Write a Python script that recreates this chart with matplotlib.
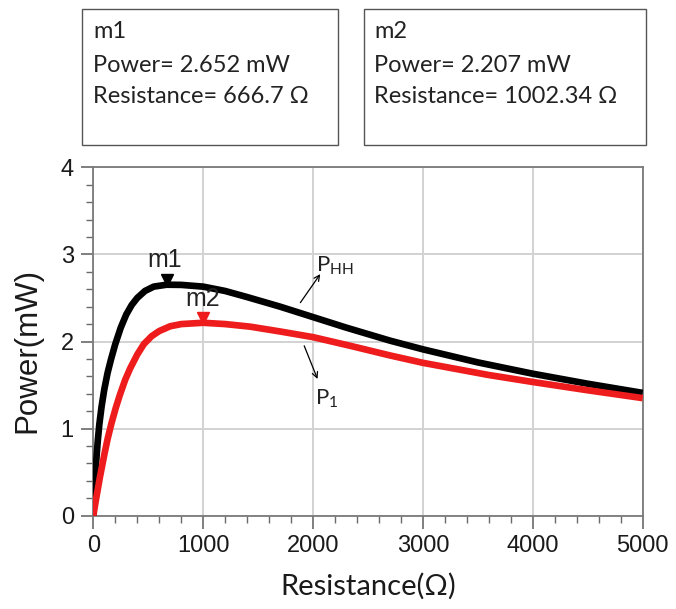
import matplotlib
matplotlib.use('Agg')
import matplotlib.pyplot as plt
from matplotlib import transforms
from matplotlib.patches import Rectangle

# ---- data ----
res_phh = [0, 10, 25, 40, 55, 75, 100, 130, 160, 200, 250, 300, 350, 400, 470, 550,
           667, 800, 1000, 1200, 1400, 1700, 2000, 2300, 2700, 3000, 3500, 4000, 4500, 5000]
pow_phh = [0, 0.25, 0.6, 0.85, 1.05, 1.25, 1.45, 1.64, 1.79, 1.97, 2.16, 2.31, 2.42, 2.50, 2.58, 2.63,
           2.652, 2.65, 2.63, 2.58, 2.51, 2.40, 2.28, 2.16, 2.01, 1.91, 1.76, 1.63, 1.515, 1.41]

res_p1 = [0, 25, 60, 100, 130, 165, 205, 240, 290, 335, 400, 460, 530, 600, 700, 800,
          1000, 1200, 1430, 1700, 2000, 2340, 2700, 3000, 3600, 4000, 4500, 5000]
pow_p1 = [0, 0.19, 0.44, 0.70, 0.88, 1.06, 1.24, 1.38, 1.56, 1.69, 1.85, 1.97, 2.06, 2.12, 2.175, 2.20,
          2.215, 2.20, 2.17, 2.115, 2.05, 1.95, 1.84, 1.755, 1.615, 1.535, 1.44, 1.35]

m1_res, m1_pow = 666.7, 2.652
m2_res, m2_pow = 1002.34, 2.207

x_ticks = [0, 1000, 2000, 3000, 4000, 5000]
y_ticks = [0, 1, 2, 3, 4]

W, H = 676, 609
fig = plt.figure(figsize=(W / 100, H / 100), dpi=100)

def fx(px):
    return px / W

def fy(py):
    return 1 - py / H

ax = fig.add_axes([fx(93.3), fy(515.7), (642.7 - 93.3) / W, (515.7 - 167.3) / H])
ax.set_xlim(0, 5000)
ax.set_ylim(0, 4)
ax.set_xticks(x_ticks)
ax.set_yticks(y_ticks)
ax.set_xticks([v for v in range(0, 5001, 200)], minor=True)
ax.set_yticks([v / 5 for v in range(0, 21)], minor=True)
ax.grid(True, which='major', color='#d2d2d2', lw=1.4)
ax.set_axisbelow(True)
for s in ax.spines.values():
    s.set_color('#7a7a7a')
    s.set_linewidth(1.3)
ax.tick_params(which='major', direction='out', length=9, width=1.2, color='#6a6a6a',
               labelsize=17, labelcolor='#1a1a1a', pad=5)
ax.tick_params(which='minor', direction='out', length=5, width=1.0, color='#6a6a6a')
for lab in ax.get_xticklabels() + ax.get_yticklabels():
    lab.set_fontfamily('Liberation Sans')

ax.plot(res_phh, pow_phh, color='black', lw=4.8, solid_capstyle='butt',
        solid_joinstyle='round', zorder=3)
ax.plot(res_p1, pow_p1, color='#ee1c1c', lw=4.8, solid_capstyle='butt',
        solid_joinstyle='round', zorder=4)

# markers (tip sits on the curve)
up = transforms.offset_copy(ax.transData, fig=fig, x=0, y=5, units='dots')
ax.plot([m1_res], [m1_pow], marker='v', color='black', ms=9, transform=up, zorder=5, clip_on=False)
ax.plot([m2_res], [m2_pow], marker='v', color='#ee1c1c', ms=9, transform=up, zorder=5, clip_on=False)
ax.annotate('m1', (m1_res, m1_pow), xytext=(-2, 25), textcoords='offset pixels',
            ha='center', va='center', fontsize=18, family='Liberation Sans', color='#222222')
ax.annotate('m2', (m2_res, m2_pow), xytext=(-1, 24), textcoords='offset pixels',
            ha='center', va='center', fontsize=18, family='Liberation Sans', color='#222222')

# curve labels with arrows
ax.annotate('', xy=(2080, 2.80), xytext=(1870, 2.42),
            arrowprops=dict(arrowstyle='->', color='black', lw=0.9))
ax.text(2030, 2.74, r'P$_{\mathregular{HH}}$', fontsize=16, family='Lato', color='#222222',
        ha='left', va='bottom')
ax.annotate('', xy=(2050, 1.54), xytext=(1910, 1.98),
            arrowprops=dict(arrowstyle='->', color='black', lw=0.9))
ax.text(2020, 1.21, r'P$_{\mathregular{1}}$', fontsize=16, family='Lato', color='#222222',
        ha='left', va='bottom')

ax.set_ylabel('Power(mW)', fontsize=22.5, family='Liberation Sans', color='#1a1a1a')
ax.yaxis.set_label_coords(-0.093, 0.475)
ax.set_xlabel('Resistance(Ω)', fontsize=21, family='Lato', color='#1a1a1a')
ax.xaxis.set_label_coords(0.5, -0.163)

# marker readout boxes
boxes = [(82, 338, 'm1', 'Power= 2.652 mW', 'Resistance= 666.7 Ω'),
         (363.5, 645.5, 'm2', 'Power= 2.207 mW', 'Resistance= 1002.34 Ω')]
for left, right, name, l1, l2 in boxes:
    fig.add_artist(Rectangle((fx(left), fy(145)), (right - left) / W, (145 - 9.3) / H,
                             transform=fig.transFigure, fill=False, ec='#555555', lw=1.0))
    tx = fx(left + 11)
    for txt, base in ((name, 38.3), (l1, 71.7), (l2, 103.3)):
        fig.text(tx, fy(base), txt, fontsize=17, family='Lato', color='#222222',
                 ha='left', va='baseline')

fig.savefig('out.png', dpi=100)
